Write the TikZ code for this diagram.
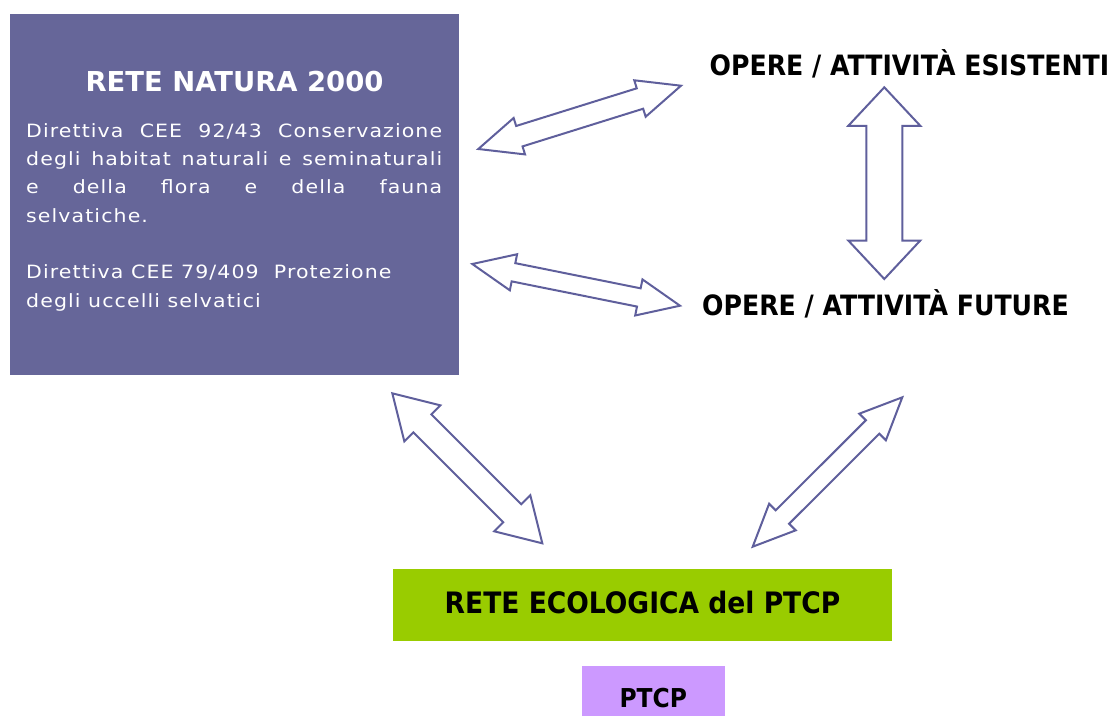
\documentclass[tikz,border=0pt]{standalone}
\usepackage{fontspec}
\setmainfont{DejaVu Sans}
\newfontfamily\bodyfont{DejaVu Sans}[FakeStretch=1.12, LetterSpace=6]
\newfontfamily\narrowfont{DejaVu Sans}[FakeStretch=0.9]
\usetikzlibrary{calc}

\definecolor{natura}{HTML}{666699}
\definecolor{ecogreen}{HTML}{99CC00}
\definecolor{ptcplilac}{HTML}{CC99FF}
\definecolor{arrowline}{HTML}{5F5F9C}

% Hollow double-headed block arrow between two named points.
% #1, #2: tips; #3: shaft half width; #4: head half width; #5: head length
\newcommand\dblblock[5]{%
  \draw[blockarrow] (#1)
    -- ($($(#1)!#5!(#2)$)!#4!90:(#2)$)
    -- ($($(#1)!#5!(#2)$)!#3!90:(#2)$)
    -- ($($(#2)!#5!(#1)$)!#3!-90:(#1)$)
    -- ($($(#2)!#5!(#1)$)!#4!-90:(#1)$)
    -- (#2)
    -- ($($(#2)!#5!(#1)$)!#4!90:(#1)$)
    -- ($($(#2)!#5!(#1)$)!#3!90:(#1)$)
    -- ($($(#1)!#5!(#2)$)!#3!-90:(#2)$)
    -- ($($(#1)!#5!(#2)$)!#4!-90:(#2)$)
    -- cycle;}

\begin{document}
\begin{tikzpicture}[x=1pt, y=-1pt,
  blockarrow/.style={draw=arrowline, fill=white, line width=2pt, line join=miter},
  panel/.style={inner sep=0pt, outer sep=0pt, draw=none},
  labeltext/.style={inner sep=0pt, font=\narrowfont\bfseries\fontsize{28}{32}\selectfont},
]
\useasboundingbox (0,0) rectangle (1111,716);

% Rete Natura 2000 panel
\node[panel, fill=natura, anchor=north west, minimum width=449pt, minimum height=361pt] (natura) at (10,14) {};
\node[inner sep=0pt, anchor=base, text=white, font=\bfseries\fontsize{27.4}{30}\selectfont] (naturatitle) at (234.5,91.7) {RETE NATURA 2000};
\node[inner sep=0pt, anchor=base west, text=white, text width=416pt, align=justify,
      font=\bodyfont\fontsize{18.3}{28.3}\selectfont] (direttive) at (26,137.3)
  {Direttiva CEE 92/43 Conservazione\linebreak
   degli habitat naturali e seminaturali\linebreak
   e della flora e della fauna\linebreak
   selvatiche.\par\vspace{28.3pt}
   Direttiva CEE 79/409\ \ Protezione\hfill\null\newline
   degli uccelli selvatici\hfill\null};

% Works and activities
\node[labeltext, anchor=base] (esistenti) at (909.5,75.7) {OPERE / ATTIVITÀ ESISTENTI};
\node[labeltext, anchor=base] (future) at (885.5,315.7) {OPERE / ATTIVITÀ FUTURE};

% Ecological network and plan
\node[panel, fill=ecogreen, minimum width=499pt, minimum height=72pt, text height=16.6pt, text depth=0pt,
      font=\narrowfont\bfseries\fontsize{29.5}{32}\selectfont] (ecorete) at (642.5,605) {RETE ECOLOGICA del PTCP};
\node[panel, fill=ptcplilac, minimum width=143.3pt, minimum height=50pt, text height=33.4pt, text depth=0pt,
      font=\narrowfont\bfseries\fontsize{26}{30}\selectfont] (ptcp) at (653.3,691) {PTCP};

% Arrow tips
\coordinate (a1w) at (478.3,149);   \coordinate (a1e) at (681,85.7);
\coordinate (a2n) at (884.3,87.3);  \coordinate (a2s) at (884.3,279);
\coordinate (a3w) at (472.3,264);   \coordinate (a3e) at (680,305.7);
\coordinate (a4nw) at (392.3,393.3); \coordinate (a4se) at (542.3,543.3);
\coordinate (a5ne) at (902.3,397.3); \coordinate (a5sw) at (752.7,546.7);

\dblblock{a1w}{a1e}{10.7pt}{19.1pt}{43pt}
\dblblock{a2n}{a2s}{18pt}{36pt}{38.5pt}
\dblblock{a3w}{a3e}{9.3pt}{18.4pt}{42pt}
\dblblock{a4nw}{a4se}{12.7pt}{25.5pt}{42.5pt}
\dblblock{a5ne}{a5sw}{9.5pt}{18.8pt}{42pt}
\end{tikzpicture}
\end{document}
